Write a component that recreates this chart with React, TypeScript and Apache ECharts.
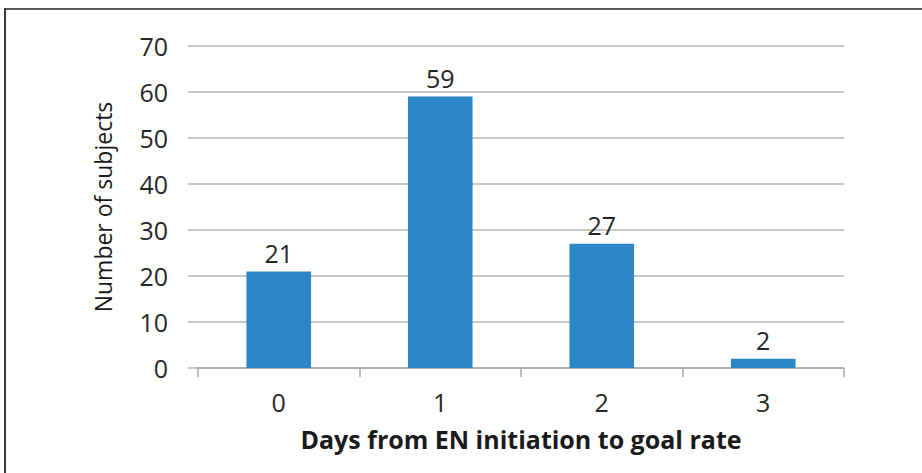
import React, { useEffect, useRef } from "react";
import * as echarts from "echarts";

const categories = ["0", "1", "2", "3"];
const subjects = [21, 59, 27, 2];
const yTicks = { min: 0, max: 70, interval: 10 };
const xTitle = "Days from EN initiation to goal rate";
const yTitle = "Number of subjects";

export default function App() {
  const ref = useRef<HTMLDivElement>(null);
  useEffect(() => {
    if (!ref.current) return;
    const chart = echarts.init(ref.current, null, { renderer: "svg" });
    const font = "'Open Sans', 'Noto Sans', sans-serif";
    chart.setOption({
      animation: false,
      backgroundColor: "#ffffff",
      textStyle: { fontFamily: font },
      grid: { left: 198, right: 78, top: 46, bottom: 105, containLabel: false },
      graphic: [
        { type: "line", shape: { x1: 5, y1: 9, x2: 922, y2: 9 }, style: { stroke: "#5a5a5a", lineWidth: 2 } },
        { type: "line", shape: { x1: 5, y1: 8, x2: 5, y2: 473 }, style: { stroke: "#3a3a3a", lineWidth: 2 } },
      ],
      xAxis: {
        type: "category",
        data: categories,
        name: xTitle,
        nameLocation: "middle",
        nameGap: 58,
        nameTextStyle: { fontSize: 25, fontWeight: "bold", color: "#1a1a1a", fontFamily: font },
        axisLine: { show: true, lineStyle: { color: "#a6a6a6", width: 1.5 } },
        axisTick: { show: true, length: 9, alignWithLabel: false, lineStyle: { color: "#a6a6a6", width: 1.5 } },
        axisLabel: { fontSize: 25, color: "#262626", margin: 21, fontFamily: font },
      },
      yAxis: {
        type: "value",
        min: yTicks.min,
        max: yTicks.max,
        interval: yTicks.interval,
        name: yTitle,
        nameLocation: "middle",
        nameGap: 84,
        nameRotate: 90,
        nameTextStyle: { fontSize: 23, fontWeight: 500, color: "#1a1a1a", fontFamily: font },
        axisLine: { show: false },
        axisTick: { show: true, length: 10, lineStyle: { color: "#b5b5b5", width: 1.5 } },
        axisLabel: { fontSize: 25, color: "#262626", margin: 30, fontFamily: font },
        splitLine: { show: true, lineStyle: { color: "#b5b5b5", width: 1.5 } },
      },
      series: [
        {
          type: "bar",
          data: subjects,
          barWidth: "40%",
          itemStyle: { color: "#2a86c6" },
          label: { show: true, position: "top", distance: 6, fontSize: 25, color: "#262626", fontFamily: font },
        },
      ],
    });
    return () => chart.dispose();
  }, []);
  return <div ref={ref} style={{ position: "fixed", left: 0, top: 0, width: 922, height: 473 }} />;
}
